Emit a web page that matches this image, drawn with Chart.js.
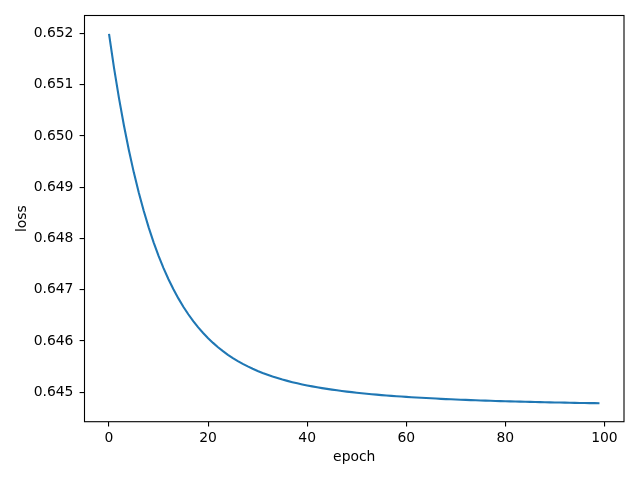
<!DOCTYPE html>
<html lang="en">
  <head>
    <meta charset="utf-8" />
    <title>Loss per epoch</title>
    <style>
      * {
        margin: 0;
        padding: 0;
      }
      body {
        background: #fff;
      }
    </style>
  </head>
  <body>
    <canvas id="myChart" width="640" height="480"></canvas>
    <script src="https://cdn.jsdelivr.net/npm/chart.js"></script>
    <script>
      // data
      const loss = [
        0.65199, 0.651334, 0.650743, 0.650208, 0.649726, 0.64929, 0.648896, 0.64854, 0.648218, 0.647926,
        0.647662, 0.647423, 0.647206, 0.64701, 0.646831, 0.646669, 0.646522, 0.646389, 0.646267, 0.646156,
        0.646055, 0.645963, 0.645878, 0.645802, 0.645731, 0.645667, 0.645608, 0.645553, 0.645504, 0.645458,
        0.645416, 0.645377, 0.645341, 0.645307, 0.645277, 0.645248, 0.645222, 0.645197, 0.645174, 0.645153,
        0.645133, 0.645115, 0.645097, 0.645081, 0.645066, 0.645051, 0.645038, 0.645025, 0.645013, 0.645002,
        0.644991, 0.644981, 0.644971, 0.644962, 0.644954, 0.644945, 0.644938, 0.64493, 0.644923, 0.644916,
        0.64491, 0.644904, 0.644898, 0.644892, 0.644887, 0.644882, 0.644877, 0.644872, 0.644867, 0.644863,
        0.644859, 0.644855, 0.644851, 0.644847, 0.644844, 0.64484, 0.644837, 0.644834, 0.644831, 0.644828,
        0.644825, 0.644822, 0.644819, 0.644817, 0.644814, 0.644812, 0.64481, 0.644808, 0.644805, 0.644803,
        0.644801, 0.644799, 0.644797, 0.644796, 0.644794, 0.644792, 0.644791, 0.644789, 0.644788, 0.644786
      ];
      const epochs = loss.map((_, i) => i);
      const xTicks = [0, 20, 40, 60, 80, 100];
      const yTicks = [0.645, 0.646, 0.647, 0.648, 0.649, 0.65, 0.651, 0.652];

      // matplotlib style 5% margins
      const xPad = (epochs[epochs.length - 1] - epochs[0]) * 0.05;
      const yMin = Math.min(...loss);
      const yMax = Math.max(...loss);
      const yPad = (yMax - yMin) * 0.05;

      const font = { family: "'DejaVu Sans', sans-serif", size: 13.9, lineHeight: 1.2 };

      // box around the plot area
      const framePlugin = {
        id: "framePlugin",
        afterDraw(chart) {
          const { ctx, chartArea: a } = chart;
          ctx.save();
          ctx.strokeStyle = "#000";
          ctx.lineWidth = 1.1;
          ctx.strokeRect(a.left, a.top, a.right - a.left, a.bottom - a.top);
          ctx.restore();
        }
      };

      const config = {
        type: "line",
        data: {
          datasets: [
            {
              label: "loss",
              data: epochs.map((e, i) => ({ x: e, y: loss[i] })),
              borderColor: "#1f77b4",
              borderWidth: 2.1,
              pointRadius: 0,
              tension: 0,
              fill: false
            }
          ]
        },
        options: {
          responsive: false,
          animation: false,
          devicePixelRatio: 1,
          layout: {
            padding: { left: 0, right: 16, top: 15.5, bottom: 0 }
          },
          plugins: {
            legend: { display: false },
            tooltip: { enabled: false }
          },
          scales: {
            x: {
              type: "linear",
              min: epochs[0] - xPad,
              max: epochs[epochs.length - 1] + xPad,
              afterBuildTicks: (axis) => {
                axis.ticks = xTicks.map((v) => ({ value: v }));
              },
              afterFit: (scale) => {
                scale.height = 58.3;
              },
              grid: {
                drawOnChartArea: false,
                drawTicks: true,
                tickLength: 4.9,
                color: "#000",
                lineWidth: 1.1
              },
              border: { display: false },
              ticks: {
                color: "#000",
                font,
                padding: 3.6,
                maxRotation: 0,
                autoSkip: false
              },
              title: {
                display: true,
                text: "epoch",
                color: "#000",
                font,
                padding: { top: 0, bottom: 14.7 }
              }
            },
            y: {
              type: "linear",
              min: yMin - yPad,
              max: yMax + yPad,
              afterBuildTicks: (axis) => {
                axis.ticks = yTicks.map((v) => ({ value: v }));
              },
              afterFit: (scale) => {
                scale.width = 84.5;
              },
              grid: {
                drawOnChartArea: false,
                drawTicks: true,
                tickLength: 4.9,
                color: "#000",
                lineWidth: 1.1
              },
              border: { display: false },
              ticks: {
                color: "#000",
                font,
                padding: 6.2,
                autoSkip: false,
                callback: (v) => v.toFixed(3)
              },
              title: {
                display: true,
                text: "loss",
                color: "#000",
                font,
                padding: { top: 13.6, bottom: 0 }
              }
            }
          }
        },
        plugins: [framePlugin]
      };

      const myChart = new Chart(document.getElementById("myChart"), config);
    </script>
  </body>
</html>
